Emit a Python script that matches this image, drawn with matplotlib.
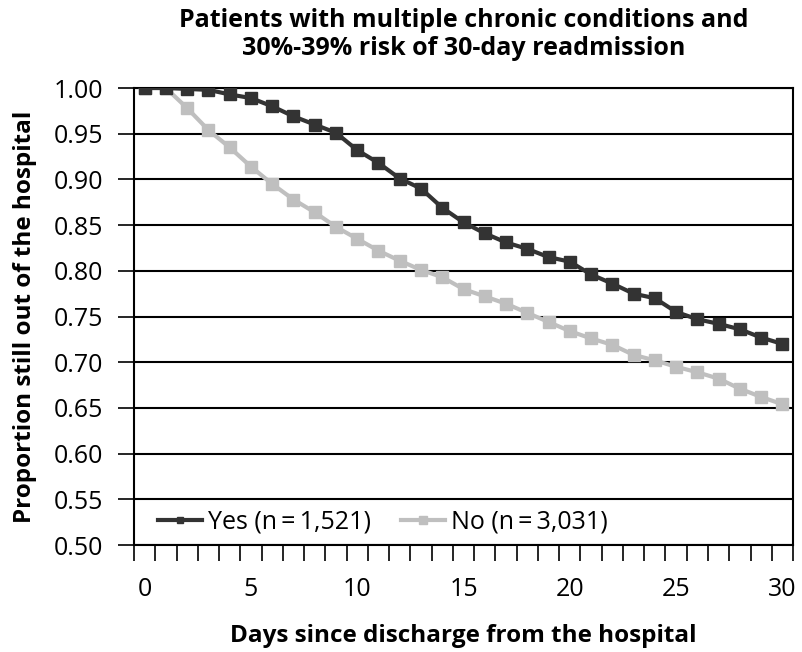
import matplotlib.pyplot as plt
from matplotlib.ticker import MultipleLocator, FixedLocator

plt.rcParams['font.family'] = ['Open Sans', 'DejaVu Sans']

days = list(range(0, 31))
yes_vals = [1.000, 1.000, 0.999, 0.998, 0.993, 0.989, 0.980, 0.969, 0.960, 0.951,
            0.932, 0.918, 0.901, 0.890, 0.869, 0.853, 0.841, 0.831, 0.824, 0.815,
            0.810, 0.796, 0.786, 0.775, 0.770, 0.755, 0.747, 0.742, 0.736, 0.727,
            0.720]
no_vals = [1.000, 1.000, 0.978, 0.954, 0.935, 0.914, 0.895, 0.878, 0.864, 0.848,
           0.835, 0.822, 0.811, 0.801, 0.793, 0.780, 0.772, 0.764, 0.754, 0.744,
           0.734, 0.726, 0.719, 0.708, 0.702, 0.695, 0.689, 0.682, 0.671, 0.662,
           0.654]
yes_label = "Yes (n\u2009=\u20091,521)"
no_label = "No (n\u2009=\u20093,031)"
title = "Patients with multiple chronic conditions and\n30%-39% risk of 30-day readmission"

fig = plt.figure(figsize=(8.02, 6.52), dpi=100)
ax = fig.add_axes([0.1671, 0.1641, 0.8217, 0.7009])

ax.plot(days, no_vals, color='#bfbfbf', linewidth=3, marker='s', markersize=9,
        label=no_label, zorder=3)
ax.plot(days, yes_vals, color='#333333', linewidth=3, marker='s', markersize=8,
        label=yes_label, zorder=4)

ax.set_xlim(-0.5, 30.5)
ax.set_ylim(0.5, 1.0)
ax.yaxis.set_major_locator(MultipleLocator(0.05))
ax.yaxis.set_major_formatter(plt.FuncFormatter(lambda v, p: f"{v:.2f}"))
ax.xaxis.set_major_locator(FixedLocator(range(0, 31, 5)))
ax.xaxis.set_minor_locator(FixedLocator([d - 0.5 for d in range(0, 32)]))
ax.tick_params(axis='x', which='major', length=0, labelsize=18, pad=23)
ax.tick_params(axis='x', which='minor', length=11.5, width=1.2, direction='out')
ax.tick_params(axis='y', length=11.5, width=1.2, labelsize=18, pad=11)
ax.grid(axis='y', color='black', linewidth=1.5)
for s in ax.spines.values():
    s.set_linewidth(1.5)

ax.set_xlabel("Days since discharge from the hospital", fontsize=17.5, fontweight='bold', labelpad=16)
ax.set_ylabel("Proportion still out of the hospital", fontsize=17.5, fontweight='bold', labelpad=12)
ax.set_title(title, fontsize=18, fontweight='bold', pad=24, linespacing=1.15)

handles, labels = ax.get_legend_handles_labels()
leg = ax.legend(handles[::-1], labels[::-1], loc='center left', ncol=2, frameon=False,
                fontsize=18, handlelength=1.76, handletextpad=0.25, columnspacing=1.2,
                markerscale=0.6, borderpad=0, borderaxespad=0,
                bbox_to_anchor=(0.036, 0.05))

fig.savefig("out.png", dpi=100)
